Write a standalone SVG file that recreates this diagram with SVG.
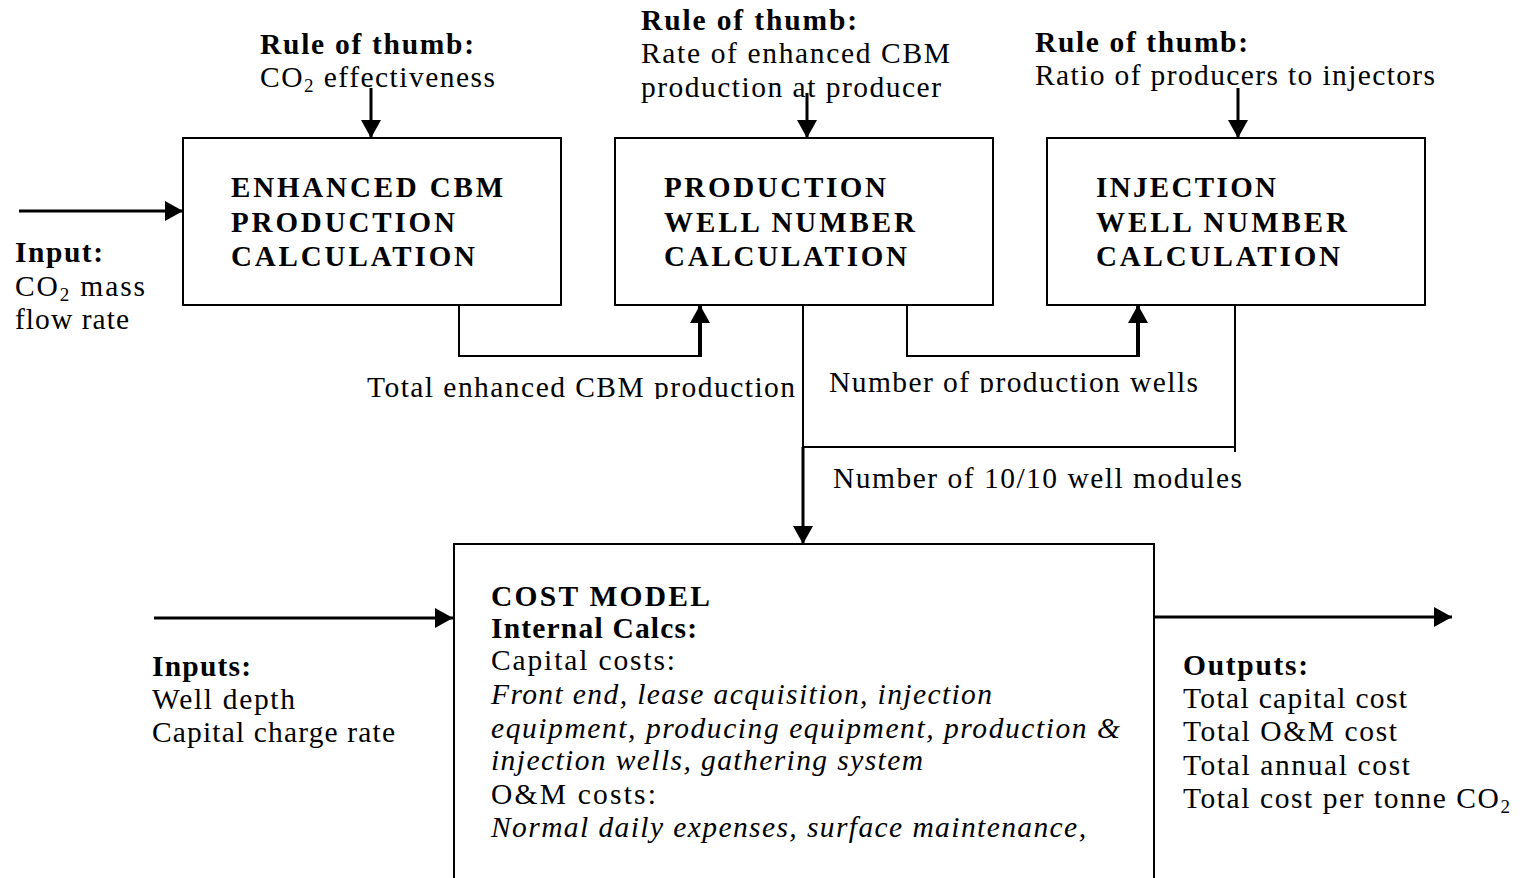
<svg xmlns="http://www.w3.org/2000/svg" width="1522" height="878" viewBox="0 0 1522 878">
<defs>
<style>
text{font-family:"Liberation Serif","Times New Roman",serif;font-size:29.5px;fill:#000}
.b{font-weight:bold}
.t{font-weight:bold;font-size:29px}
.i{font-style:italic}
.sub{font-size:19px}
.box{fill:#fff;stroke:#000;stroke-width:2}
.c{fill:none;stroke:#000;stroke-width:2}
.a{fill:none;stroke:#000;stroke-width:3}
.a4{fill:none;stroke:#000;stroke-width:4}
</style>
<marker id="ah" markerUnits="userSpaceOnUse" viewBox="0 0 18 20" refX="18" refY="10" markerWidth="18" markerHeight="20" orient="auto">
<path d="M0,0 L18,10 L0,20 z" fill="#000"/>
</marker>
<clipPath id="clipA"><rect x="300" y="360" width="520" height="39"/></clipPath>
<clipPath id="clipB"><rect x="815" y="360" width="420" height="33"/></clipPath>
</defs>
<rect width="1522" height="878" fill="#fff"/>

<g id="connectors">
<line class="a" x1="19" y1="211" x2="183" y2="211" marker-end="url(#ah)"/>
<line class="a" x1="371" y1="88" x2="371" y2="138" marker-end="url(#ah)"/>
<line class="a" x1="807" y1="93" x2="807" y2="138" marker-end="url(#ah)"/>
<line class="a" x1="1238" y1="88" x2="1238" y2="138" marker-end="url(#ah)"/>
<polyline class="c" points="459,305 459,356 702,356"/>
<line class="a4" x1="700" y1="357" x2="700" y2="305" marker-end="url(#ah)"/>
<polyline class="c" points="907,305 907,356 1140,356"/>
<line class="a4" x1="1138" y1="357" x2="1138" y2="305" marker-end="url(#ah)"/>
<line class="c" x1="803" y1="305" x2="803" y2="448"/>
<line class="c" x1="1235" y1="305" x2="1235" y2="452"/>
<line class="c" x1="802" y1="447" x2="1236" y2="447"/>
<line class="a" x1="803" y1="447" x2="803" y2="544" marker-end="url(#ah)"/>
<line class="a" x1="154" y1="618" x2="453" y2="618" marker-end="url(#ah)"/>
<line class="a" x1="1154" y1="617" x2="1452" y2="617" marker-end="url(#ah)"/>
</g>

<g id="input-co2">
<text class="b" x="15" y="262" textLength="88" lengthAdjust="spacing">Input:</text>
<text x="15" y="296" textLength="130" lengthAdjust="spacing">CO<tspan class="sub" dy="5">2</tspan><tspan dy="-5"> mass</tspan></text>
<text x="15" y="329" textLength="114" lengthAdjust="spacing">flow rate</text>
</g>

<g id="rule1">
<text class="b" x="260" y="54" textLength="214" lengthAdjust="spacing">Rule of thumb:</text>
<text x="260" y="87" textLength="235" lengthAdjust="spacing">CO<tspan class="sub" dy="5">2</tspan><tspan dy="-5"> effectiveness</tspan></text>
</g>

<g id="rule2">
<text class="b" x="641" y="30" textLength="216" lengthAdjust="spacing">Rule of thumb:</text>
<text x="641" y="63" textLength="309" lengthAdjust="spacing">Rate of enhanced CBM</text>
<text x="641" y="97" textLength="300" lengthAdjust="spacing">production at producer</text>
</g>

<g id="rule3">
<text class="b" x="1035" y="52" textLength="213" lengthAdjust="spacing">Rule of thumb:</text>
<text x="1035" y="85" textLength="400" lengthAdjust="spacing">Ratio of producers to injectors</text>
</g>

<g id="enhanced-cbm">
<rect class="box" x="183" y="138" width="378" height="167"/>
<text class="t" x="231" y="197" textLength="272" lengthAdjust="spacing">ENHANCED CBM</text>
<text class="t" x="231" y="232" textLength="224" lengthAdjust="spacing">PRODUCTION</text>
<text class="t" x="231" y="266" textLength="244" lengthAdjust="spacing">CALCULATION</text>
</g>

<g id="production-well">
<rect class="box" x="615" y="138" width="378" height="167"/>
<text class="t" x="664" y="197" textLength="222" lengthAdjust="spacing">PRODUCTION</text>
<text class="t" x="664" y="232" textLength="251" lengthAdjust="spacing">WELL NUMBER</text>
<text class="t" x="664" y="266" textLength="243" lengthAdjust="spacing">CALCULATION</text>
</g>

<g id="injection-well">
<rect class="box" x="1047" y="138" width="378" height="167"/>
<text class="t" x="1096" y="197" textLength="180" lengthAdjust="spacing">INJECTION</text>
<text class="t" x="1096" y="232" textLength="251" lengthAdjust="spacing">WELL NUMBER</text>
<text class="t" x="1096" y="266" textLength="244" lengthAdjust="spacing">CALCULATION</text>
</g>

<g id="labels">
<text x="367" y="397" textLength="428" lengthAdjust="spacing" clip-path="url(#clipA)">Total enhanced CBM production</text>
<text x="829" y="392" textLength="369" lengthAdjust="spacing" clip-path="url(#clipB)">Number of production wells</text>
<text x="833" y="488" textLength="409" lengthAdjust="spacing">Number of 10/10 well modules</text>
</g>

<g id="inputs">
<text class="b" x="152" y="676" textLength="99" lengthAdjust="spacing">Inputs:</text>
<text x="152" y="709" textLength="143" lengthAdjust="spacing">Well depth</text>
<text x="152" y="742" textLength="243" lengthAdjust="spacing">Capital charge rate</text>
</g>

<g id="cost-model">
<rect class="box" x="454" y="544" width="700" height="400"/>
<text class="b" x="491" y="606" textLength="219" lengthAdjust="spacing">COST MODEL</text>
<text class="b" x="491" y="638" textLength="206" lengthAdjust="spacing">Internal Calcs:</text>
<text x="491" y="670" textLength="184" lengthAdjust="spacing">Capital costs:</text>
<text class="i" x="491" y="704" textLength="501" lengthAdjust="spacing">Front end, lease acquisition, injection</text>
<text class="i" x="491" y="738" textLength="629" lengthAdjust="spacing">equipment, producing equipment, production &amp;</text>
<text class="i" x="491" y="770" textLength="432" lengthAdjust="spacing">injection wells, gathering system</text>
<text x="491" y="804" textLength="165" lengthAdjust="spacing">O&amp;M costs:</text>
<text class="i" x="491" y="837" textLength="595" lengthAdjust="spacing">Normal daily expenses, surface maintenance,</text>
</g>

<g id="outputs">
<text class="b" x="1183" y="675" textLength="125" lengthAdjust="spacing">Outputs:</text>
<text x="1183" y="708" textLength="224" lengthAdjust="spacing">Total capital cost</text>
<text x="1183" y="741" textLength="214" lengthAdjust="spacing">Total O&amp;M cost</text>
<text x="1183" y="775" textLength="227" lengthAdjust="spacing">Total annual cost</text>
<text x="1183" y="808" textLength="327" lengthAdjust="spacing">Total cost per tonne CO<tspan class="sub" dy="5">2</tspan></text>
</g>
</svg>
